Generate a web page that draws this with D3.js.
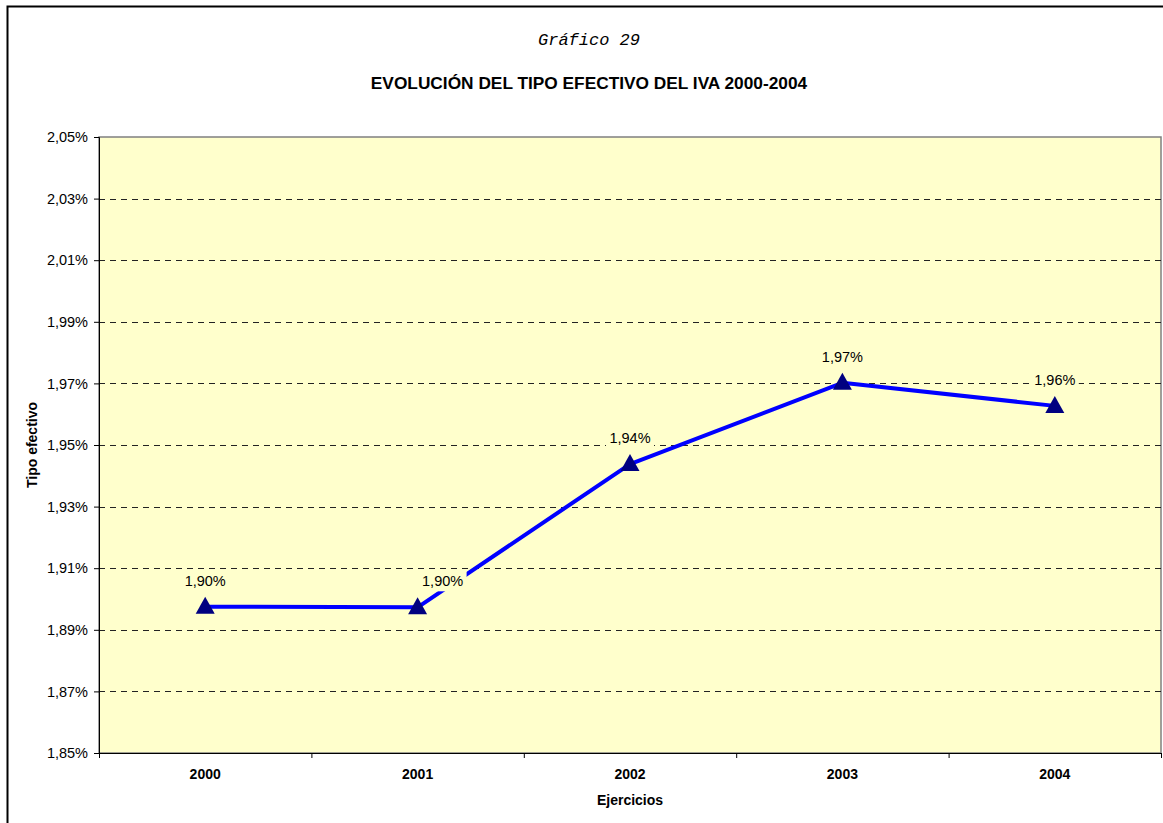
<!DOCTYPE html>
<html lang="es">
<head>
<meta charset="UTF-8">
<title>Evolución del tipo efectivo del IVA</title>
<script src="https://d3js.org/d3.v7.min.js"></script>
<style>
  body { margin: 0; background: #ffffff; }
  svg text { font-family: "Liberation Sans", Arial, sans-serif; fill: #000; }
</style>
</head>
<body>
<svg id="chart" width="1163" height="823"></svg>
<script>
// data
let years = ['2000', '2001', '2002', '2003', '2004'];
let rates = [1.8975, 1.8973, 1.9438, 1.9702, 1.9627];
let rateLabels = ['1,90%', '1,90%', '1,94%', '1,97%', '1,96%'];
let yTicks = [1.85, 1.87, 1.89, 1.91, 1.93, 1.95, 1.97, 1.99, 2.01, 2.03, 2.05];

let svg = d3.select('#chart');
let plot = {left: 99, top: 137, right: 1161, bottom: 753};

// outer frame (runs off the right and bottom edge like the original)
svg.append('path')
  .attr('d', 'M7.5,830 L7.5,6.5 L1170,6.5')
  .attr('fill', 'none')
  .attr('stroke', '#000')
  .attr('stroke-width', 2);

svg.append('text')
  .attr('x', 589).attr('y', 45)
  .attr('text-anchor', 'middle')
  .style('font-family', '"Liberation Mono", "Courier New", monospace')
  .style('font-style', 'italic')
  .style('font-size', '17px')
  .text('Gráfico 29');

svg.append('text')
  .attr('x', 589).attr('y', 89)
  .attr('text-anchor', 'middle')
  .style('font-weight', 'bold')
  .style('font-size', '17.3px')
  .text('EVOLUCIÓN DEL TIPO EFECTIVO DEL IVA 2000-2004');

let x = d3.scaleBand().domain(years).range([plot.left, plot.right]);
let y = d3.scaleLinear().domain([1.85, 2.05]).range([plot.bottom, plot.top]);

svg.append('rect')
  .attr('x', plot.left).attr('y', plot.top)
  .attr('width', plot.right - plot.left).attr('height', plot.bottom - plot.top)
  .attr('fill', '#ffffcc')
  .attr('stroke', '#808080')
  .attr('stroke-width', 1.5);

// dashed gridlines
svg.append('g')
  .selectAll('line')
  .data(yTicks.filter(d => d > 1.85 && d < 2.05))
  .join('line')
  .attr('x1', plot.left).attr('x2', plot.right)
  .attr('y1', d => Math.round(y(d)) + 0.5).attr('y2', d => Math.round(y(d)) + 0.5)
  .attr('stroke', '#222')
  .attr('stroke-dasharray', '6,5');

let yAxis = svg.append('g')
  .attr('transform', 'translate(' + plot.left + ',0)')
  .call(d3.axisLeft(y).tickValues(yTicks).tickSize(5).tickPadding(6)
    .tickFormat(d => d.toFixed(2).replace('.', ',') + '%'));
yAxis.selectAll('text').style('font-size', '14.5px').style('font-family', '"Liberation Sans", Arial, sans-serif');
yAxis.selectAll('line, path').attr('stroke', '#000');

let xAxis = svg.append('g')
  .attr('transform', 'translate(0,' + plot.bottom + ')')
  .call(d3.axisBottom(x).tickSize(0).tickPadding(16));
xAxis.selectAll('text').style('font-size', '14px').style('font-weight', 'bold')
  .style('font-family', '"Liberation Sans", Arial, sans-serif');
xAxis.select('path').attr('stroke', '#000');
// tick marks on the category boundaries
xAxis.selectAll('.bound')
  .data(years.concat(['end']))
  .join('line')
  .attr('class', 'bound')
  .attr('x1', (d, i) => plot.left + i * x.step() + 0.5)
  .attr('x2', (d, i) => plot.left + i * x.step() + 0.5)
  .attr('y1', 0).attr('y2', 5)
  .attr('stroke', '#000');

svg.append('text')
  .attr('transform', 'translate(37,445) rotate(-90)')
  .attr('text-anchor', 'middle')
  .style('font-weight', 'bold').style('font-size', '14px')
  .text('Tipo efectivo');

svg.append('text')
  .attr('x', (plot.left + plot.right) / 2).attr('y', 805)
  .attr('text-anchor', 'middle')
  .style('font-weight', 'bold').style('font-size', '14px')
  .text('Ejercicios');

let cx = d => x(d) + x.bandwidth() / 2;

svg.append('path')
  .datum(years)
  .attr('fill', 'none')
  .attr('stroke', '#0000ff')
  .attr('stroke-width', 4)
  .attr('stroke-linejoin', 'round')
  .attr('d', d3.line().x(d => cx(d)).y((d, i) => y(rates[i])));

svg.append('g')
  .selectAll('path')
  .data(years)
  .join('path')
  .attr('transform', (d, i) => 'translate(' + cx(d) + ',' + (y(rates[i]) - 1) + ')')
  .attr('d', 'M0,-9 L9.5,8 L-9.5,8 Z')
  .attr('fill', '#000080');

// data labels with a background box, as in the original
let labels = svg.append('g')
  .selectAll('g')
  .data(years)
  .join('g')
  .attr('transform', (d, i) => 'translate(' + (cx(d) + (i === 1 ? 25 : 0)) + ',' + (y(rates[i]) - 26) + ')');
labels.append('rect')
  .attr('x', -24).attr('y', -10).attr('width', 48).attr('height', 20)
  .attr('fill', '#ffffcc');
labels.append('text')
  .attr('text-anchor', 'middle')
  .attr('dy', '0.35em')
  .style('font-size', '14.5px')
  .text((d, i) => rateLabels[i]);
</script>
</body>
</html>
